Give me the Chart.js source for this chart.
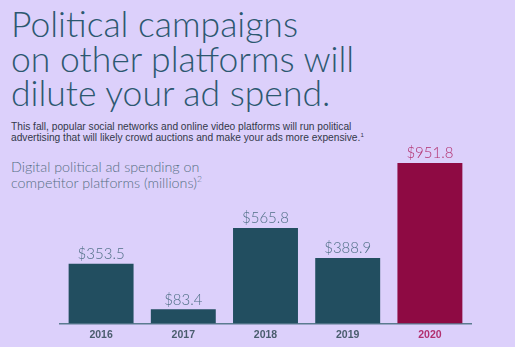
<!DOCTYPE html>
<html lang="en">
<head>
<meta charset="UTF-8">
<title>Political ad spending</title>
<script src="https://cdn.jsdelivr.net/npm/chart.js"></script>
<style>
  html, body { margin: 0; padding: 0; }
  body { width: 515px; height: 347px; background: #dcd0fb; position: relative; overflow: hidden; }
  .headline {
    position: absolute; left: 11px; top: 7px; margin: 0;
    font-family: Lato, "Liberation Sans", sans-serif; font-weight: 300;
    font-size: 35.5px; line-height: 34.5px; color: #2c5870;
  }
  .intro {
    position: absolute; left: 11px; top: 121px; margin: 0;
    font-family: "Liberation Sans", Arial, sans-serif;
    font-size: 10.2px; line-height: 11px; color: #33384a;
  }
  .chart-title {
    position: absolute; left: 11px; top: 159px; margin: 0;
    font-family: Lato, "Liberation Sans", sans-serif; font-weight: 300;
    font-size: 14.3px; line-height: 15.5px; color: #566f84;
  }
  sup { font-size: 60%; line-height: 0; vertical-align: 0.7em; }
  #chart { position: absolute; left: 0; top: 0; }
</style>
</head>
<body>
<h1 class="headline">Political campaigns<br>on other platforms will<br>dilute your ad spend.</h1>
<p class="intro">This fall, popular social networks and online video platforms will run political<br>advertising that will likely crowd auctions and make your ads more expensive.<sup>1</sup></p>
<p class="chart-title">Digital political ad spending on<br>competitor platforms (millions)<sup>2</sup></p>
<canvas id="chart" width="515" height="347"></canvas>
<script>
// spending per year, in millions of dollars
const years = ['2016', '2017', '2018', '2019', '2020'];
const spending = [353.5, 83.4, 565.8, 388.9, 951.8];
const valueLabels = ['$353.5', '$83.4', '$565.8', '$388.9', '$951.8'];

const teal = '#224e60';
const berry = '#8e0a43';
const barColors = years.map(y => y === '2020' ? berry : teal);
const labelColors = years.map(y => y === '2020' ? '#b2306f' : '#4f6f86');
const tickColors = years.map(y => y === '2020' ? '#b2306f' : '#4a5d6e');

// draws the dollar amount above each bar
const valueLabelPlugin = {
  id: 'valueLabels',
  afterDatasetsDraw(chart) {
    const ctx = chart.ctx;
    const meta = chart.getDatasetMeta(0);
    ctx.save();
    ctx.font = '300 15px Lato, "Liberation Sans", sans-serif';
    ctx.textAlign = 'center';
    ctx.textBaseline = 'bottom';
    meta.data.forEach((bar, i) => {
      ctx.fillStyle = labelColors[i];
      ctx.fillText(valueLabels[i], bar.x, bar.y - 2);
    });
    ctx.restore();
  }
};

new Chart(document.getElementById('chart'), {
  type: 'bar',
  data: {
    labels: years,
    datasets: [{
      data: spending,
      backgroundColor: barColors,
      borderWidth: 0,
      barPercentage: 0.79,
      categoryPercentage: 1
    }]
  },
  options: {
    responsive: false,
    animation: false,
    layout: { padding: { left: 60, right: 44, top: 155, bottom: 1 } },
    plugins: { legend: { display: false }, tooltip: { enabled: false } },
    scales: {
      x: {
        grid: { display: false, drawTicks: false },
        border: { color: '#5b7b90', width: 1.5 },
        ticks: {
          padding: 5,
          color: tickColors,
          font: { family: '"Liberation Sans", Arial, sans-serif', size: 10.5, weight: 'bold' }
        }
      },
      y: { display: false, min: 0, max: 1000 }
    }
  },
  plugins: [valueLabelPlugin]
});
</script>
</body>
</html>
